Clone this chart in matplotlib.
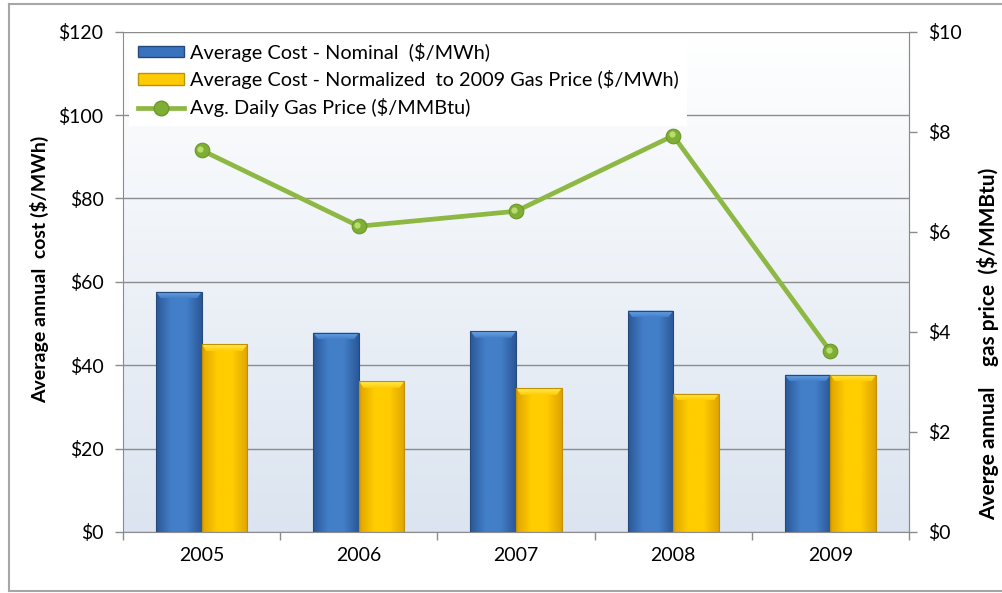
import matplotlib
matplotlib.use("Agg")
import matplotlib.pyplot as plt
import numpy as np
from matplotlib.colors import LinearSegmentedColormap
from matplotlib.patches import Polygon
from matplotlib.lines import Line2D
from matplotlib.transforms import offset_copy

plt.rcParams['font.family'] = ['Lato', 'DejaVu Sans']

years = ['2005', '2006', '2007', '2008', '2009']
nominal = [57.6, 47.8, 48.2, 53.1, 37.7]
normalized = [45.0, 36.2, 34.5, 33.2, 37.7]
gas_price = [7.63, 6.11, 6.41, 7.92, 3.61]

cost_ticks = [0, 20, 40, 60, 80, 100, 120]
gas_ticks = [0, 2, 4, 6, 8, 10]

GRID = '#8c8c8c'
FS = 14


def shade_bars(ax, bars, dark, mid, light, edge):
    # horizontal gradient clipped to each bar, plus a soft bevel on top
    cmap = LinearSegmentedColormap.from_list('bar', [dark, mid, mid, dark])
    grad = np.linspace(0, 1, 128).reshape(1, -1)
    for b in bars:
        x0, y0 = b.get_x(), b.get_y()
        w, h = b.get_width(), b.get_height()
        im = ax.imshow(grad, cmap=cmap, extent=[x0, x0 + w, y0, y0 + h],
                       aspect='auto', interpolation='bicubic', zorder=2.1)
        im.set_clip_path(b)
        d, bh = 0.03, 1.6
        top = y0 + h
        bevel = Polygon([(x0, top), (x0 + w, top), (x0 + w - d, top - bh),
                         (x0 + d, top - bh)], closed=True,
                        facecolor='none', edgecolor='none', zorder=2.2)
        ax.add_patch(bevel)
        vcmap = LinearSegmentedColormap.from_list('bev', [mid, light])
        bim = ax.imshow(np.linspace(0, 1, 32).reshape(-1, 1), cmap=vcmap,
                        origin='lower', extent=[x0, x0 + w, top - bh, top],
                        aspect='auto', interpolation='bicubic', zorder=2.2)
        bim.set_clip_path(bevel)
        ax.add_patch(plt.Rectangle((x0, y0), w, h, fill=False, edgecolor=edge,
                                   lw=0.8, zorder=2.3))


fig = plt.figure(figsize=(10.02, 5.93), dpi=100)
ax = fig.add_axes([0.1228, 0.1029, 0.7844, 0.8438])

# plot area background: white at top fading to pale blue
bg = LinearSegmentedColormap.from_list('bg', ['#dbe4f0', '#ffffff'])
ax.imshow(np.linspace(0, 1, 256).reshape(-1, 1), cmap=bg, origin='lower',
          extent=[0, 1, 0, 1], transform=ax.transAxes, aspect='auto', zorder=0)

x = np.arange(len(years))
bw = 0.29
b1 = ax.bar(x - bw / 2, nominal, bw, color='#3a73bd', zorder=2)
b2 = ax.bar(x + bw / 2, normalized, bw, color='#ffcb05', zorder=2)
shade_bars(ax, b1, '#2b5796', '#437fc9', '#6ea6e6', '#24497c')
shade_bars(ax, b2, '#e0a300', '#ffcd00', '#ffe95a', '#c29100')

ax.set_xlim(-0.5, len(years) - 0.5)
ax.set_ylim(0, 120)
ax.set_yticks(cost_ticks)
ax.set_yticklabels([f'${v}' for v in cost_ticks])
ax.set_xticks(x)
ax.set_xticklabels(years)
ax.set_xticks(np.arange(-0.5, len(years)), minor=True)
ax.tick_params(axis='x', which='major', length=0, pad=11, labelsize=FS)
ax.tick_params(axis='x', which='minor', length=6, color=GRID, width=1)
ax.tick_params(axis='y', length=6, color=GRID, width=1, pad=8, labelsize=FS)
ax.yaxis.grid(True, color=GRID, lw=1)
ax.set_axisbelow(True)
for s in ['left', 'bottom', 'right']:
    ax.spines[s].set_color(GRID)
ax.spines['top'].set_visible(False)

ax2 = ax.twinx()
ax2.set_ylim(0, 10)
ax2.set_yticks(gas_ticks)
ax2.set_yticklabels([f'${v}' for v in gas_ticks])
ax2.tick_params(axis='y', length=6, color=GRID, width=1, pad=8, labelsize=FS)
for s in ['left', 'bottom', 'top']:
    ax2.spines[s].set_visible(False)
ax2.spines['right'].set_color(GRID)

ax2.plot(x, gas_price, color='#8db843', lw=3.4, solid_capstyle='round', zorder=3)
ax2.plot(x, gas_price, 'o', ms=10.5, mfc='#7fae35', mec='#6b9628', mew=0.8, zorder=4)
hl = offset_copy(ax2.transData, fig=fig, x=-1.2, y=1.2, units='points')
ax2.plot(x, gas_price, 'o', ms=4.5, mfc='#b9dc6e', mec='none', transform=hl, zorder=5)

handles = [
    plt.Rectangle((0, 0), 1, 1, facecolor='#3a73bd', edgecolor='#24497c'),
    plt.Rectangle((0, 0), 1, 1, facecolor='#ffcb05', edgecolor='#c29100'),
    Line2D([], [], color='#8db843', lw=3.4, marker='o', ms=10.5,
           mfc='#7fae35', mec='#6b9628'),
]
labels = ['Average Cost - Nominal  ($/MWh)',
          'Average Cost - Normalized  to 2009 Gas Price ($/MWh)',
          'Avg. Daily Gas Price ($/MMBtu)']
leg = ax2.legend(handles, labels, loc='upper left', bbox_to_anchor=(0.005, 1.0),
                 fontsize=14.3, frameon=True, fancybox=False, framealpha=1,
                 edgecolor='none', facecolor='white', handlelength=2.3,
                 handleheight=0.55, handletextpad=0.3, labelspacing=0.45,
                 borderpad=0.45, borderaxespad=0.1)

fig.text(0.040, 0.545, 'Average annual  cost ($/MWh)', rotation=90,
         ha='center', va='center', fontsize=14, fontweight='bold')
fig.text(0.986, 0.42, 'Averge annual    gas price  ($/MMBtu)', rotation=90,
         ha='center', va='center', fontsize=15, fontweight='bold')

# outer frame of the chart
for xs, ys in [([0.009, 0.009], [0.0034, 0.993]),
               ([0.009, 1.0], [0.993, 0.993]),
               ([0.009, 1.0], [0.0034, 0.0034])]:
    fig.add_artist(Line2D(xs, ys, color='#a6a6a6', lw=1.5, transform=fig.transFigure))

fig.savefig('out.png', dpi=100)
